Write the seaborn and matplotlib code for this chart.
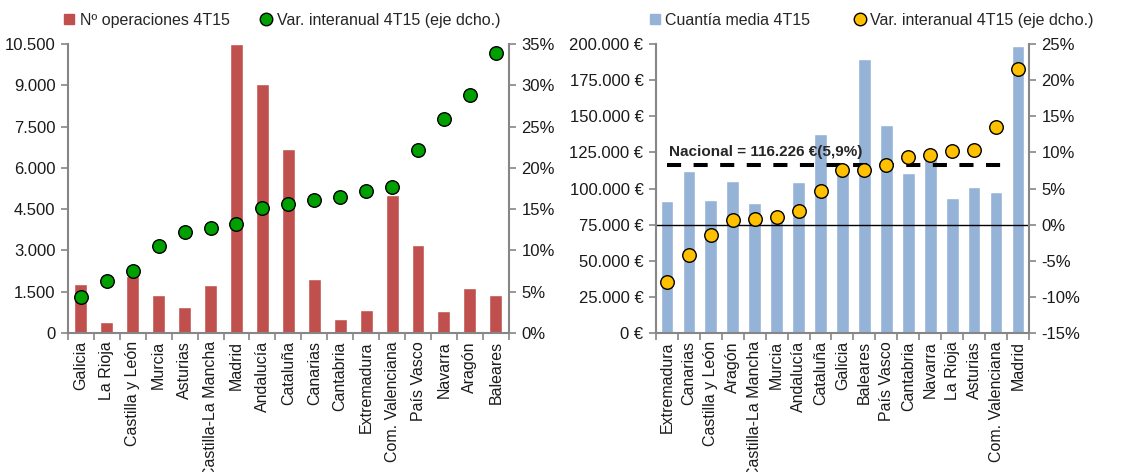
import numpy as np
import pandas as pd
import matplotlib
matplotlib.use('Agg')
import matplotlib.pyplot as plt
from matplotlib.lines import Line2D
from matplotlib.ticker import FuncFormatter, MultipleLocator, FixedLocator
import seaborn as sns

# left chart: number of operations and year-on-year change
regiones_ops = ['Galicia', 'La Rioja', 'Castilla y León', 'Murcia', 'Asturias',
                'Castilla-La Mancha', 'Madrid', 'Andalucía', 'Cataluña', 'Canarias',
                'Cantabria', 'Extremadura', 'Com. Valenciana', 'País Vasco', 'Navarra',
                'Aragón', 'Baleares']
operaciones = [1790, 400, 2080, 1380, 945, 1745, 10500, 9050, 6700, 1975,
               520, 845, 5010, 3200, 800, 1645, 1380]
var_ops = [4.4, 6.3, 7.5, 10.5, 12.2, 12.7, 13.2, 15.1, 15.6, 16.1,
           16.5, 17.2, 17.7, 22.2, 25.9, 28.8, 33.9]

# right chart: average amount and year-on-year change
regiones_cuantia = ['Extremadura', 'Canarias', 'Castilla y León', 'Aragón',
                    'Castilla-La Mancha', 'Murcia', 'Andalucía', 'Cataluña', 'Galicia',
                    'Baleares', 'País Vasco', 'Cantabria', 'Navarra', 'La Rioja',
                    'Asturias', 'Com. Valenciana', 'Madrid']
cuantia = [91500, 112500, 92300, 105500, 89700, 80600, 104800, 137500, 113500,
           190000, 144000, 110500, 121000, 93200, 101300, 97600, 199000]
var_cuantia = [-8.0, -4.2, -1.4, 0.6, 0.8, 1.0, 1.9, 4.7, 7.6,
               7.6, 8.3, 9.4, 9.7, 10.2, 10.4, 13.5, 21.5]
nacional = 116226

red = '#C0504D'
green = '#00A000'
blue = '#95B3D7'
yellow = '#FFC000'
grey = '#868686'

sns.set_style('white')
plt.rcParams['font.family'] = ['Liberation Sans', 'DejaVu Sans']
plt.rcParams['font.size'] = 11

fig = plt.figure(figsize=(11.42, 4.72), dpi=100)
ax1 = fig.add_axes([0.0595, 0.2945, 0.386, 0.612])
ax3 = fig.add_axes([0.5744, 0.2945, 0.3266, 0.612])


def miles(v, pos=None):
    return f'{int(round(v)):,}'.replace(',', '.')


def style_axes(ax, ax2, n):
    for a in (ax, ax2):
        a.spines['top'].set_visible(False)
        for s in ['left', 'right', 'bottom']:
            a.spines[s].set_color(grey)
            a.spines[s].set_linewidth(1.5)
    ax.spines['right'].set_visible(False)
    ax2.spines['left'].set_visible(False)
    ax2.spines['bottom'].set_visible(False)
    ax.tick_params(axis='y', direction='out', length=5, color=grey, width=1.2,
                   labelsize=12, labelcolor='#1a1a1a', left=True, pad=4)
    ax2.tick_params(axis='y', direction='out', length=5, color=grey, width=1.2,
                    labelsize=12, labelcolor='#1a1a1a', right=True, pad=4)
    ax.tick_params(axis='x', which='major', length=0, labelsize=11.5,
                   labelrotation=90, pad=6, labelcolor='#1a1a1a')
    ax.xaxis.set_minor_locator(FixedLocator(np.arange(-0.5, n, 1.0)))
    ax.tick_params(axis='x', which='minor', direction='out', length=5,
                   color=grey, width=1.2, bottom=True)
    ax.set_xlim(-0.5, n - 0.5)
    ax.set_xlabel('')
    ax.set_ylabel('')
    ax2.set_ylabel('')


# ---- left chart
sns.barplot(x=regiones_ops, y=operaciones, color=red, saturation=1,
            width=0.5, ax=ax1)
ax1.set_ylim(0, 10500)
ax1.yaxis.set_major_locator(MultipleLocator(1500))
ax1.yaxis.set_major_formatter(FuncFormatter(miles))
ax2 = ax1.twinx()
sns.scatterplot(x=np.arange(len(regiones_ops)), y=var_ops, ax=ax2, s=95,
                color=green, edgecolor='black', linewidth=1, zorder=3, legend=False)
ax2.set_ylim(0, 35)
ax2.yaxis.set_major_locator(MultipleLocator(5))
ax2.yaxis.set_major_formatter(FuncFormatter(lambda v, p: f'{v:.0f}%'))
style_axes(ax1, ax2, len(regiones_ops))

# ---- right chart
sns.barplot(x=regiones_cuantia, y=cuantia, color=blue, saturation=1,
            width=0.58, ax=ax3)
ax3.set_ylim(0, 200000)
ax3.yaxis.set_major_locator(MultipleLocator(25000))
ax3.yaxis.set_major_formatter(FuncFormatter(lambda v, p: miles(v) + ' €'))
ax3.axhline(75000, color='black', lw=1, zorder=2)
ax3.plot([0.0, 15.65], [nacional, nacional], color='black', lw=2.9,
         dashes=(3.5, 3.1), zorder=2)
ax3.text(0.08, 120300, 'Nacional = 116.226 €(5,9%)', fontsize=11,
         fontweight='bold', va='bottom', ha='left', zorder=4)
ax4 = ax3.twinx()
sns.scatterplot(x=np.arange(len(regiones_cuantia)), y=var_cuantia, ax=ax4, s=95,
                color=yellow, edgecolor='black', linewidth=1, zorder=3, legend=False)
ax4.set_ylim(-15, 25)
ax4.yaxis.set_major_locator(MultipleLocator(5))
ax4.yaxis.set_major_formatter(FuncFormatter(lambda v, p: f'{v:.0f}%'))
style_axes(ax3, ax4, len(regiones_cuantia))

# ---- legends
h1 = [Line2D([], [], marker='s', ls='', color=red, markersize=7),
      Line2D([], [], marker='o', ls='', markerfacecolor=green,
             markeredgecolor='black', markersize=9)]
fig.legend(h1, ['Nº operaciones 4T15', 'Var. interanual 4T15 (eje dcho.)'],
           loc='center', bbox_to_anchor=(0.246, 0.957), ncol=2, frameon=False,
           fontsize=11.5, handletextpad=0.15, columnspacing=1.8, handlelength=1)
h2 = [Line2D([], [], marker='s', ls='', color=blue, markersize=7),
      Line2D([], [], marker='o', ls='', markerfacecolor=yellow,
             markeredgecolor='black', markersize=9)]
fig.legend(h2, ['Cuantía media 4T15', 'Var. interanual 4T15 (eje dcho.)'],
           loc='center', bbox_to_anchor=(0.762, 0.957), ncol=2, frameon=False,
           fontsize=11.5, handletextpad=0.15, columnspacing=2.6, handlelength=1)

fig.savefig('out.png', dpi=100)
